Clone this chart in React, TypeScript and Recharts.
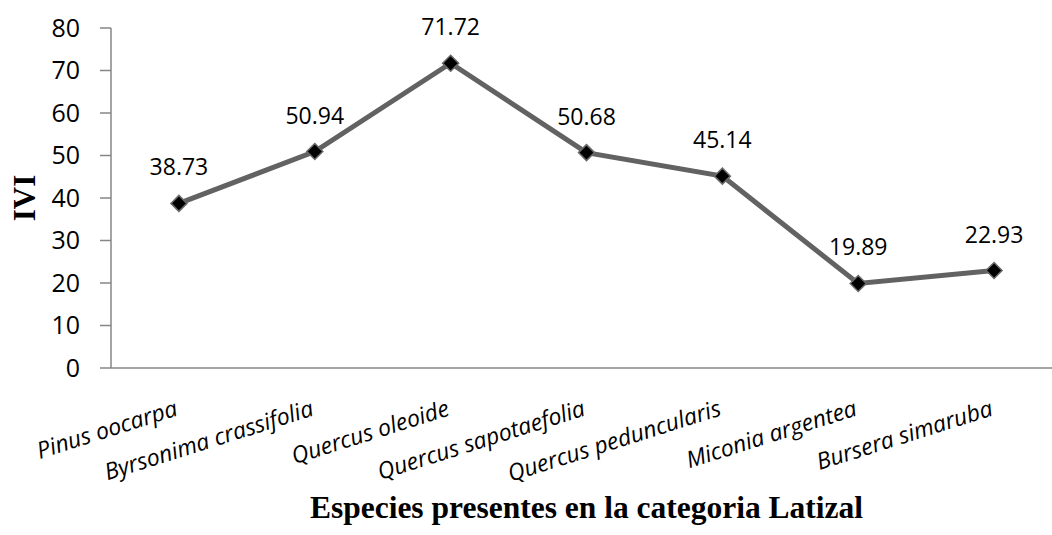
import React from 'react';
import { LineChart, XAxis, YAxis, Line, LabelList } from 'recharts';

// --- data ---
const SPECIES = [
  'Pinus oocarpa',
  'Byrsonima crassifolia',
  'Quercus oleoide',
  'Quercus sapotaefolia',
  'Quercus peduncularis',
  'Miconia argentea',
  'Bursera simaruba',
];
const IVI = [38.73, 50.94, 71.72, 50.68, 45.14, 19.89, 22.93];
const Y_TICKS = [0, 10, 20, 30, 40, 50, 60, 70, 80];
const BOUND_TICKS = [0, 1, 2, 3, 4, 5, 6, 7];
const CENTER_TICKS = SPECIES.map((_, i) => i + 0.5);

const data = SPECIES.map((name, i) => ({ name, pos: i + 0.5, ivi: IVI[i] }));

const AXIS = '#868686';
const SANS = '"Open Sans", sans-serif';
const SERIF = '"Liberation Serif", "Times New Roman", serif';

const SpeciesTick = (props: any) => {
  const { x, y, payload } = props;
  const idx = Math.round(payload.value - 0.5);
  return (
    <g transform={`translate(${x},${y + 29}) rotate(-17.5)`}>
      <text x={0} y={0} textAnchor="end" fontFamily={SANS} fontStyle="italic" fontSize={23} fill="#000">
        {SPECIES[idx]}
      </text>
    </g>
  );
};

const Diamond = (props: any) => {
  const { cx, cy } = props;
  if (cx == null || cy == null) return null;
  const r = 8;
  return (
    <polygon
      points={`${cx},${cy - r} ${cx + r},${cy} ${cx},${cy + r} ${cx - r},${cy}`}
      fill="#000"
      stroke="#6a6a6a"
      strokeWidth={1.5}
    />
  );
};

const YTitle = (props: any) => {
  const { viewBox } = props;
  const cx = viewBox.x + 13;
  const cy = viewBox.y + viewBox.height / 2;
  return (
    <text
      x={cx}
      y={cy}
      transform={`rotate(-90, ${cx}, ${cy})`}
      textAnchor="middle"
      dominantBaseline="central"
      fontFamily={SERIF}
      fontWeight="bold"
      fontSize={31}
      fill="#000"
    >
      IVI
    </text>
  );
};

const XTitle = (props: any) => {
  const { viewBox } = props;
  return (
    <text
      x={viewBox.x + viewBox.width / 2}
      y={viewBox.y + viewBox.height + 20}
      textAnchor="middle"
      fontFamily={SERIF}
      fontWeight="bold"
      fontSize={31.5}
      fill="#000"
    >
      Especies presentes en la categoria Latizal
    </text>
  );
};

export default function App() {
  return (
    <div style={{ position: 'absolute', left: 0, top: 0, width: 1052, height: 535, overflow: 'hidden', background: '#fff' }}>
      <LineChart width={1080} height={535} data={data} margin={{ top: 28, right: 18, left: 11, bottom: 37 }}>
        <XAxis
          xAxisId="bounds"
          type="number"
          dataKey="pos"
          domain={[0, 7]}
          ticks={BOUND_TICKS}
          tick={false}
          tickSize={8}
          height={10}
          stroke={AXIS}
          strokeWidth={1.5}
        />
        <XAxis
          xAxisId="labels"
          type="number"
          dataKey="pos"
          domain={[0, 7]}
          ticks={CENTER_TICKS}
          interval={0}
          axisLine={false}
          tickLine={false}
          tick={<SpeciesTick />}
          height={120}
          label={<XTitle />}
        />
        <YAxis
          type="number"
          domain={[0, 80]}
          ticks={Y_TICKS}
          width={100}
          tickSize={11}
          tickMargin={20}
          stroke={AXIS}
          strokeWidth={1.5}
          tick={{ fill: '#000', fontSize: 25, fontFamily: SANS }}
          label={<YTitle />}
        />
        <Line
          xAxisId="bounds"
          dataKey="ivi"
          stroke="#626262"
          strokeWidth={5}
          dot={<Diamond />}
          activeDot={false}
          isAnimationActive={false}
        >
          <LabelList dataKey="ivi" position="top" offset={28} fontSize={23} fontFamily={SANS} fill="#000" formatter={(v: any) => Number(v).toFixed(2)} />
        </Line>
      </LineChart>
    </div>
  );
}
